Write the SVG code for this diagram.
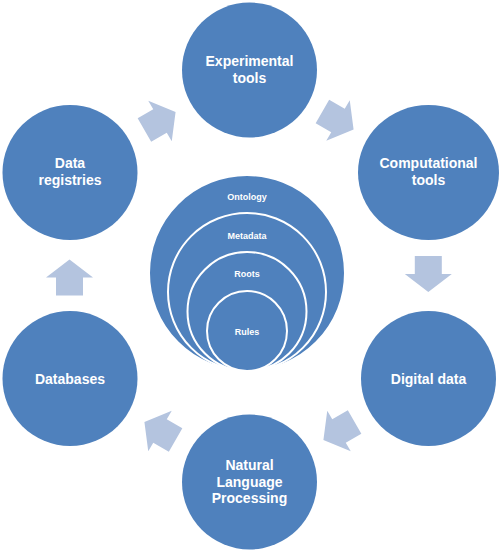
<svg xmlns="http://www.w3.org/2000/svg" width="502" height="554" viewBox="0 0 502 554">
<style>
.node{fill:#4F81BD;}
.ring{fill:#4F81BD;stroke:#FFFFFF;stroke-width:2;}
.lbl{font-family:"Liberation Sans",Arial,sans-serif;font-weight:bold;font-size:14px;fill:#FFFFFF;text-anchor:middle;}
.sm{font-family:"Liberation Sans",Arial,sans-serif;font-weight:bold;font-size:9px;fill:#FFFFFF;text-anchor:middle;}
.arr{fill:#B4C4DF;}
</style>
<defs>
<polygon id="blk" points="-18,-13.5 0,-13.5 0,-23.5 18,0 0,23.5 0,13.5 -18,13.5"/>
</defs>
<rect width="502" height="554" fill="#FFFFFF"/>
<g id="connectors">
<use href="#blk" class="arr" transform="translate(160,121) rotate(-30)"/>
<use href="#blk" class="arr" transform="translate(338,120.5) rotate(30)"/>
<use href="#blk" class="arr" transform="translate(428.3,274) rotate(90)"/>
<use href="#blk" class="arr" transform="translate(339,431) rotate(150)"/>
<use href="#blk" class="arr" transform="translate(160,431) rotate(210)"/>
<use href="#blk" class="arr" transform="translate(69.5,277.5) rotate(-90)"/>
</g>
<g id="experimental">
<circle class="node" cx="249.5" cy="70" r="67.5"/>
<text class="lbl" x="249.5" y="66">Experimental</text>
<text class="lbl" x="249.5" y="83">tools</text>
</g>
<g id="computational">
<ellipse class="node" cx="428.5" cy="172.5" rx="70.5" ry="67.5"/>
<text class="lbl" x="428.5" y="167.5">Computational</text>
<text class="lbl" x="428.5" y="184.5">tools</text>
</g>
<g id="digital">
<circle class="node" cx="428.5" cy="378.5" r="67.5"/>
<text class="lbl" x="428.5" y="383.5">Digital data</text>
</g>
<g id="nlp">
<circle class="node" cx="249.5" cy="482" r="67.5"/>
<text class="lbl" x="249.5" y="469.5">Natural</text>
<text class="lbl" x="249.5" y="486.5">Language</text>
<text class="lbl" x="249.5" y="503">Processing</text>
</g>
<g id="databases">
<circle class="node" cx="70" cy="378.5" r="67.5"/>
<text class="lbl" x="70" y="383.5">Databases</text>
</g>
<g id="registries">
<circle class="node" cx="70" cy="172.5" r="67.5"/>
<text class="lbl" x="70" y="167.5">Data</text>
<text class="lbl" x="70" y="184.5">registries</text>
</g>
<g id="center">
<circle class="ring" cx="247" cy="273" r="98"/>
<circle class="ring" cx="247" cy="292" r="79"/>
<circle class="ring" cx="247" cy="311.5" r="59.5"/>
<circle class="ring" cx="247" cy="331" r="40"/>
<text class="sm" x="247" y="200">Ontology</text>
<text class="sm" x="247" y="239">Metadata</text>
<text class="sm" x="247" y="277">Roots</text>
<text class="sm" x="247" y="335">Rules</text>
</g>
</svg>
